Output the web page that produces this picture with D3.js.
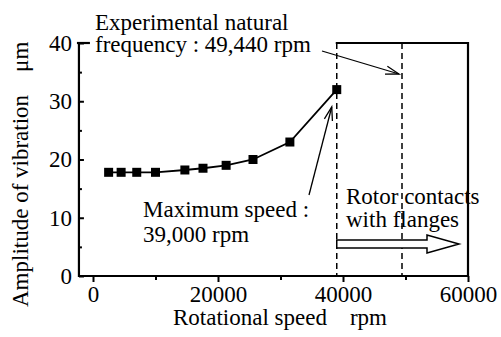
<!DOCTYPE html>
<html>
<head>
<style>
  body, html { margin: 0; padding: 0; background: #fff; }
</style>
</head>
<body>
<svg id="svg" width="501" height="337" font-family="Liberation Serif, Tinos, DejaVu Serif, serif"></svg>
<script src="https://d3js.org/d3.v7.min.js"></script>
<script>
// Measured points (rotational speed in rpm, amplitude in um)
const speeds = [2500, 4500, 7000, 10000, 14700, 17600, 21300, 25600, 31500, 39000]
const amplitudes = [17.8, 17.8, 17.8, 17.8, 18.2, 18.5, 19.0, 20.0, 23.0, 32.0]
const xTicks = [0, 20000, 40000, 60000]
const xMinorTicks = [10000, 30000, 50000]
const yTicks = [0, 10, 20, 30, 40]
const yMinorTicks = [5, 15, 25, 35]
const maxSpeed = 39000
const naturalFreq = 49440

const FONT = 'Liberation Serif, Tinos, DejaVu Serif, serif'
const FS = 23

const svg = d3.select('#svg')

const x = d3.scaleLinear().domain([0, 60000]).range([93, 468])
const y = d3.scaleLinear().domain([0, 40]).range([276, 43])

const xLeft = x(-2250), xRight = x(60000)
const yBottom = y(0), yTop = y(40)

function txt(str, tx, ty) {
  return svg.append('text')
    .attr('x', tx).attr('y', ty)
    .attr('font-family', FONT)
    .attr('font-size', FS)
    .attr('fill', '#000')
    .attr('xml:space', 'preserve')
    .text(str)
}

// annotations
txt('Experimental natural', 95, 30)
txt('frequency : 49,440 rpm', 95, 52)
txt('Maximum speed :', 143, 217)
txt('39,000 rpm', 143, 242)
txt('Rotor contacts', 346, 204)
txt('with flanges', 346, 227)

// axis titles
txt('Rotational speed    rpm', 173, 325)
txt('Amplitude of vibration    μm', 0, 0)
  .attr('transform', 'translate(28, 307) rotate(-90)')

// x axis, ticks pointing out
svg.append('g')
  .attr('transform', `translate(0, ${yBottom})`)
  .call(d3.axisBottom(x).tickValues(xTicks).tickFormat(d3.format('d')).tickSize(6).tickPadding(4))
svg.append('g')
  .attr('transform', `translate(0, ${yBottom})`)
  .call(d3.axisBottom(x).tickValues(xMinorTicks).tickFormat('').tickSize(4))

// y axis, ticks pointing in
svg.append('g')
  .attr('transform', `translate(${xLeft}, 0)`)
  .call(d3.axisLeft(y).tickValues(yTicks).tickSize(-5).tickPadding(7))
svg.append('g')
  .attr('transform', `translate(${xLeft}, 0)`)
  .call(d3.axisLeft(y).tickValues(yMinorTicks).tickFormat('').tickSize(-3))

svg.selectAll('g').attr('font-family', FONT).attr('font-size', FS)
svg.selectAll('.domain').remove()
svg.selectAll('.tick line').attr('stroke', '#000').attr('stroke-width', 2)
svg.selectAll('.tick text')
  .attr('font-family', FONT)
  .attr('font-size', FS)
  .attr('fill', '#000')

// axis lines and partial frame
const frame = svg.append('g').attr('stroke', '#000').attr('stroke-width', 2.2).attr('fill', 'none')
frame.append('line').attr('x1', xLeft).attr('x2', xRight + 1).attr('y1', yBottom).attr('y2', yBottom)
frame.append('line').attr('x1', xLeft).attr('x2', xLeft).attr('y1', yBottom + 1).attr('y2', yTop)
frame.append('line').attr('x1', x(maxSpeed) - 1).attr('x2', xRight).attr('y1', yTop).attr('y2', yTop)
frame.append('line').attr('x1', xRight).attr('x2', xRight).attr('y1', yTop - 1).attr('y2', yBottom)
// short leader at the top of the y axis
frame.append('line').attr('x1', xLeft - 2).attr('x2', xLeft + 11).attr('y1', yTop).attr('y2', yTop)

// dashed vertical lines
svg.selectAll('.vdash')
  .data([maxSpeed, naturalFreq])
  .join('line')
  .attr('x1', d => x(d)).attr('x2', d => x(d))
  .attr('y1', yTop).attr('y2', yBottom)
  .attr('stroke', '#000').attr('stroke-width', 1.5)
  .attr('stroke-dasharray', '6,4')

// data line and squares
const pts = speeds.map((s, i) => ({ s, a: amplitudes[i] }))
svg.append('path')
  .datum(pts)
  .attr('d', d3.line().x(d => x(d.s)).y(d => y(d.a)))
  .attr('fill', 'none').attr('stroke', '#000').attr('stroke-width', 1.8)
svg.selectAll('.pt')
  .data(pts)
  .join('rect')
  .attr('x', d => x(d.s) - 4.5).attr('y', d => y(d.a) - 4.5)
  .attr('width', 9).attr('height', 9)
  .attr('fill', '#000')

// arrows with open heads
function openArrow(x1, y1, x2, y2) {
  const g = svg.append('g').attr('stroke', '#000').attr('stroke-width', 1.3).attr('fill', 'none')
  g.append('line').attr('x1', x1).attr('y1', y1).attr('x2', x2).attr('y2', y2)
  const ang = Math.atan2(y2 - y1, x2 - x1)
  const len = 14, spread = 0.3
  g.append('path').attr('d', d3.line()([
    [x2 - len * Math.cos(ang - spread), y2 - len * Math.sin(ang - spread)],
    [x2, y2],
    [x2 - len * Math.cos(ang + spread), y2 - len * Math.sin(ang + spread)]
  ]))
}
openArrow(322, 51, x(naturalFreq) - 3, 74)
openArrow(309, 195, x(maxSpeed) - 5, 107)

// hollow block arrow
const bx0 = x(maxSpeed), bx1 = 427, tip = 459, bmid = 244
svg.append('path')
  .attr('d', d3.line()([
    [bx0, bmid - 4], [bx1, bmid - 4], [bx1, bmid - 9], [tip, bmid],
    [bx1, bmid + 9], [bx1, bmid + 4], [bx0, bmid + 4]
  ]) + 'Z')
  .attr('fill', '#fff').attr('stroke', '#000').attr('stroke-width', 1.5)
</script>
</body>
</html>
